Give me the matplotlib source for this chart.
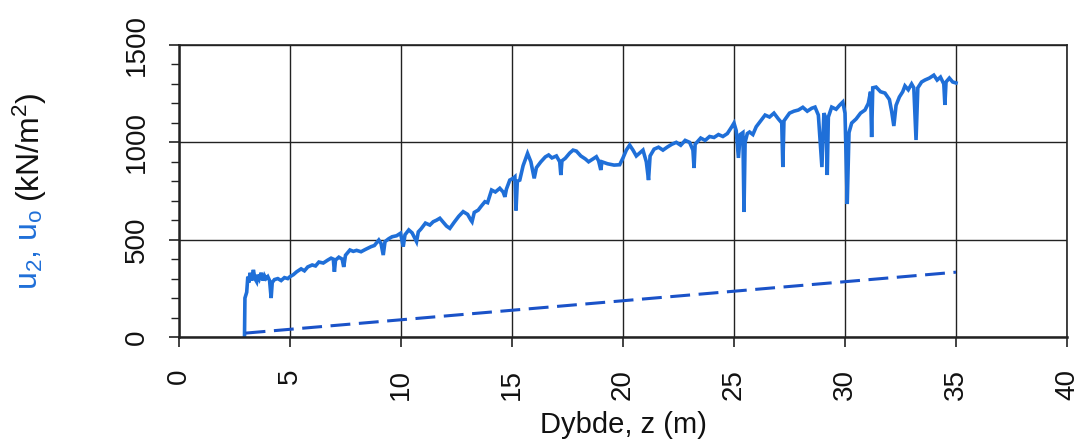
import numpy as np
import matplotlib
matplotlib.use("Agg")
from matplotlib import pyplot as plt
from matplotlib.ticker import MultipleLocator

plt.rcParams['font.family'] = ['Liberation Sans', 'DejaVu Sans']
plt.rcParams['mathtext.fontset'] = 'custom'
plt.rcParams['mathtext.rm'] = 'Liberation Sans'
plt.rcParams['mathtext.it'] = 'Liberation Sans:italic'

# measured pore pressure u2 vs depth
z_u2 = [2.95, 2.97, 3.05, 3.1, 3.15, 3.2, 3.28, 3.35, 3.42, 3.5, 3.55, 3.62, 3.7, 3.78,
        3.85, 3.92, 4.0, 4.08, 4.15, 4.2, 4.3, 4.45, 4.6, 4.75, 4.9, 5.0, 5.15, 5.3,
        5.5, 5.65, 5.8, 6.0, 6.15, 6.3, 6.5, 6.7, 6.85, 6.95, 7.0, 7.05, 7.2, 7.35,
        7.42, 7.5, 7.7, 7.85, 8.0, 8.2, 8.4, 8.65, 8.8, 9.0, 9.1, 9.2, 9.28, 9.45,
        9.6, 9.8, 9.98, 10.1, 10.18, 10.35, 10.5, 10.7, 10.78, 10.9, 11.1, 11.3, 11.45,
        11.6, 11.75, 11.9, 12.05, 12.2, 12.4, 12.6, 12.8, 13.0, 13.15, 13.2, 13.3,
        13.48, 13.6, 13.78, 13.9, 14.08, 14.25, 14.45, 14.6, 14.68, 14.75, 14.9, 15.05,
        15.13, 15.18, 15.24, 15.35, 15.5, 15.7, 15.85, 16.0, 16.1, 16.3, 16.5, 16.65,
        16.8, 17.0, 17.15, 17.2, 17.25, 17.4, 17.6, 17.75, 17.9, 18.1, 18.3, 18.45,
        18.65, 18.8, 18.9, 19.0, 19.05, 19.3, 19.6, 19.85, 20.0, 20.15, 20.3, 20.45,
        20.6, 20.75, 20.9, 21.05, 21.15, 21.22, 21.4, 21.6, 21.8, 22.0, 22.2, 22.4,
        22.6, 22.8, 23.0, 23.15, 23.2, 23.25, 23.5, 23.7, 23.9, 24.1, 24.3, 24.5,
        24.7, 24.9, 25.0, 25.1, 25.2, 25.28, 25.4, 25.45, 25.5, 25.6, 25.7, 25.85,
        26.0, 26.2, 26.4, 26.6, 26.8, 27.0, 27.15, 27.2, 27.25, 27.5, 27.7, 27.9,
        28.1, 28.3, 28.5, 28.65, 28.8, 28.96, 29.05, 29.15, 29.2, 29.25, 29.4, 29.6,
        29.75, 29.9, 30.0, 30.1, 30.18, 30.3, 30.5, 30.7, 30.9, 31.05, 31.15, 31.2,
        31.25, 31.4, 31.6, 31.8, 32.0, 32.1, 32.2, 32.3, 32.45, 32.6, 32.7, 32.85,
        33.0, 33.1, 33.2, 33.28, 33.45, 33.6, 33.8, 34.0, 34.15, 34.3, 34.45, 34.5,
        34.55, 34.7, 34.85, 35.0]
u2 = [0, 200, 230, 310, 280, 330, 290, 345, 300, 284, 320, 300, 330, 290,
      315, 300, 310, 290, 200, 280, 295, 300, 290, 305, 300, 310, 320, 335,
      350, 340, 360, 370, 365, 385, 380, 395, 405, 400, 335, 395, 410, 400,
      360, 420, 447, 440, 445, 438, 450, 464, 470, 498, 480, 421, 490, 505,
      515, 520, 533, 464, 525, 550, 535, 490, 540, 555, 585, 575, 592,
      600, 610, 590, 570, 558, 590, 620, 644, 630, 600, 592, 640,
      652, 670, 695, 690, 755, 745, 764, 745, 720, 760, 806, 815,
      823, 650, 800, 806, 880, 943, 900, 815, 870, 900, 925, 935,
      920, 930, 900, 832, 905, 918, 945, 960, 955, 930, 915, 900,
      915, 926, 905, 858, 900, 890, 883, 885, 920, 960, 986, 960,
      930, 945, 960, 900, 806, 930, 965, 975, 960, 976, 990, 1000,
      985, 1010, 1000, 960, 868, 990, 1022, 1010, 1030, 1025, 1040, 1030,
      1045, 1080, 1099, 1060, 920, 1040, 1050, 642, 1000, 1045, 1053, 1040,
      1080, 1110, 1140, 1130, 1150, 1120, 1100, 873, 1110, 1150, 1160, 1166,
      1180, 1160, 1175, 1181, 1140, 873, 1150, 1120, 832, 1130, 1181, 1170,
      1190, 1207, 1150, 683, 1050, 1099, 1120, 1150, 1166, 1200, 1260, 1027,
      1280, 1284, 1260, 1253, 1220, 1160, 1084, 1190, 1233, 1260, 1290, 1270,
      1300, 1280, 1012, 1280, 1310, 1320, 1330, 1345, 1320, 1335, 1300, 1192,
      1310, 1330, 1310, 1305]

# hydrostatic pressure u0
z_u0 = [3.0, 35.0]
u0 = [20, 333]

x_ticks = [0, 5, 10, 15, 20, 25, 30, 35, 40]
y_ticks = [0, 500, 1000, 1500]

blue = '#1f6fd8'
dash_blue = '#1a52c8'

fig = plt.figure(figsize=(10.84, 4.45), dpi=100)
ax = fig.add_axes([179/1084, 108/445, 888/1084, 292/445])

ax.plot(z_u2, u2, color=blue, lw=2.6, solid_joinstyle='miter')
ax.plot(z_u0, u0, color=dash_blue, lw=2.2, dashes=(6.5, 2.8))

ax.set_xlim(0, 40)
ax.set_ylim(0, 1500)
ax.set_xticks(x_ticks)
ax.set_yticks(y_ticks)
ax.yaxis.set_minor_locator(MultipleLocator(100))
ax.grid(True, which='major', color='#222222', lw=1.0)
for s in ax.spines.values():
    s.set_color('#222222')
    s.set_linewidth(1.2)
ax.spines['bottom'].set_linewidth(1.8)
ax.spines['left'].set_linewidth(1.8)

ax.tick_params(axis='both', which='major', direction='out', length=7, width=1.2,
               labelsize=20, colors='#222222', labelcolor='#111111')
ax.tick_params(axis='y', which='minor', direction='out', length=6, width=1.0, colors='#222222')
ax.tick_params(axis='x', pad=16, labelrotation=90)
ax.tick_params(axis='y', pad=14)
for lab in ax.get_yticklabels():
    lab.set_rotation(90)
    lab.set_va('center')

ax.set_xlabel('Dybde, z (m)', fontsize=21, color='#111111', labelpad=8)

# two-coloured y label
t1 = fig.text(30/1084, (445-290)/445, r'u$_2$, u$_\mathrm{o}$', rotation=90,
              ha='center', va='bottom', fontsize=23, color=blue)
ax.annotate('(kN/m$^2$)', xy=(0.5, 1), xycoords=t1, xytext=(0, 5),
            textcoords='offset points', rotation=90, ha='center', va='bottom',
            fontsize=23, color='#111111', annotation_clip=False)

fig.savefig('out.png', dpi=100)
